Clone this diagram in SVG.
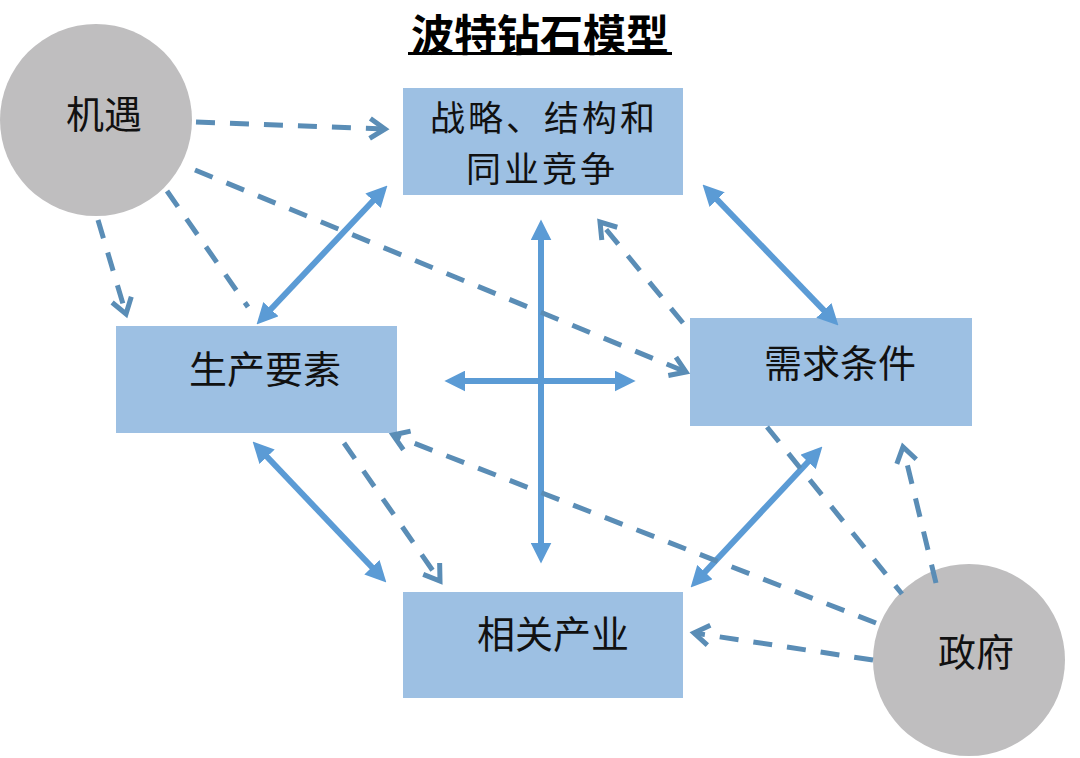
<svg xmlns="http://www.w3.org/2000/svg" width="1080" height="758" viewBox="0 0 1080 758">
  <style>
    .box { fill: #9dc0e3; }
    .circ { fill: #bfbebf; }
    .lbl { font-family: "Noto Sans CJK SC", "Noto Sans", sans-serif; font-size: 38px; fill: #111111; text-anchor: middle; }
    .lbl2 { font-family: "Noto Sans CJK SC", "Noto Sans", sans-serif; font-size: 35px; letter-spacing: 3px; fill: #111111; text-anchor: middle; }
    .title { font-family: "Noto Sans CJK SC", "Noto Sans", sans-serif; font-size: 43px; font-weight: bold; fill: #000000; text-anchor: middle; }
    .solid { stroke: #5b9bd5; stroke-width: 6; fill: none; marker-start: url(#tri); marker-end: url(#tri); }
    .dash { stroke: #5a8db6; stroke-width: 5; fill: none; stroke-dasharray: 19 15; }
    .arr { marker-end: url(#chev); }
  </style>
  <defs>
    <marker id="tri" markerUnits="userSpaceOnUse" viewBox="0 0 20 20" markerWidth="21" markerHeight="21" refX="8" refY="10" orient="auto-start-reverse">
      <path d="M0,0 L20,10 L0,20 Z" fill="#5b9bd5"/>
    </marker>
    <marker id="chev" markerUnits="userSpaceOnUse" viewBox="-22 -14 28 28" markerWidth="28" markerHeight="28" refX="0" refY="0" orient="auto">
      <path d="M-15,-10 L0,0 L-15,10" fill="none" stroke="#5a8db6" stroke-width="5" stroke-dasharray="none"/>
    </marker>
  </defs>
  <rect width="1080" height="758" fill="#ffffff"/>

  <text class="title" x="540" y="51">波特钻石模型</text>
  <rect x="408" y="52" width="264" height="3" fill="#000000"/>

  <g id="node-jiyu">
    <circle class="circ" cx="96" cy="120" r="96"/>
    <text class="lbl" x="104" y="128">机遇</text>
  </g>
  <g id="node-zhanlue">
    <rect class="box" x="403" y="88" width="280" height="107"/>
    <text class="lbl2" x="544" y="131">战略、结构和</text>
    <text class="lbl2" x="542" y="182">同业竞争</text>
  </g>
  <g id="node-shengchan">
    <rect class="box" x="116" y="326" width="281" height="107"/>
    <text class="lbl" x="265" y="383">生产要素</text>
  </g>
  <g id="node-xuqiu">
    <rect class="box" x="690" y="318" width="282" height="108"/>
    <text class="lbl" x="840" y="377">需求条件</text>
  </g>
  <g id="node-xiangguan">
    <rect class="box" x="403" y="592" width="280" height="106"/>
    <text class="lbl" x="553" y="648">相关产业</text>
  </g>
  <g id="node-zhengfu">
    <circle class="circ" cx="969" cy="660" r="96"/>
    <text class="lbl" x="976" y="666">政府</text>
  </g>

  <g id="connectors">
    <line class="solid" x1="265.2" y1="315.3" x2="378.8" y2="194.7"/>
    <line class="solid" x1="711.3" y1="193.6" x2="829.7" y2="316.4"/>
    <line class="solid" x1="261.3" y1="450.7" x2="377.7" y2="573.3"/>
    <line class="solid" x1="813.8" y1="455.8" x2="699.2" y2="578.2"/>
    <line class="solid" x1="541" y1="232" x2="541" y2="551"/>
    <line class="solid" x1="457" y1="381" x2="623" y2="381"/>

    <line class="dash arr" x1="196" y1="122" x2="385" y2="129"/>
    <line class="dash arr" x1="195" y1="170" x2="686" y2="372"/>
    <line class="dash arr" x1="98" y1="220" x2="126" y2="314"/>
    <line class="dash" x1="167" y1="191" x2="248" y2="307"/>
    <line class="dash arr" x1="683" y1="323" x2="600" y2="222"/>
    <line class="dash arr" x1="876" y1="623" x2="393" y2="435"/>
    <line class="dash arr" x1="873" y1="660" x2="694" y2="633"/>
    <line class="dash arr" x1="936" y1="583" x2="903" y2="447"/>
    <line class="dash" x1="767" y1="427" x2="902" y2="594"/>
    <line class="dash arr" x1="344" y1="443" x2="440" y2="581"/>
  </g>
</svg>
